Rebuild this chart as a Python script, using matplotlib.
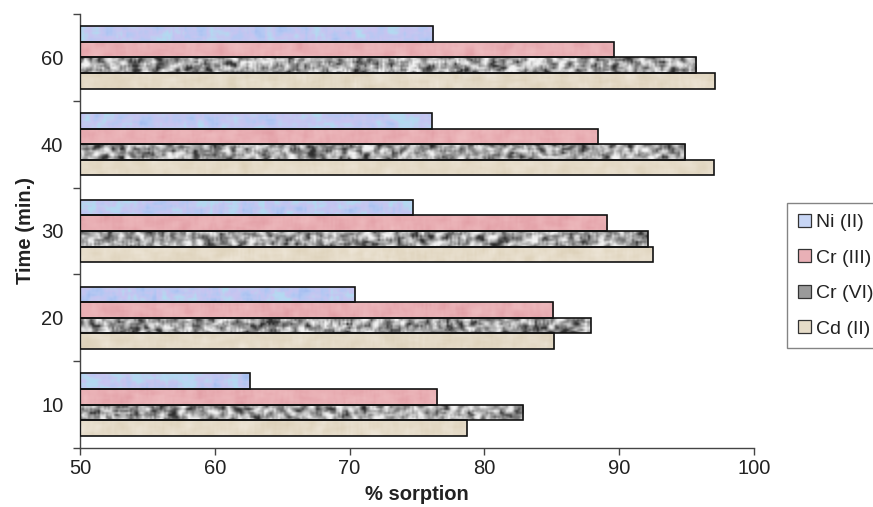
import numpy as np
import matplotlib
matplotlib.use("Agg")
import matplotlib.pyplot as plt
from matplotlib.patches import Patch
from matplotlib.colors import LinearSegmentedColormap

plt.rcParams['font.family'] = ['Liberation Sans', 'DejaVu Sans']

times = ['10', '20', '30', '40', '60']
series = ['Ni (II)', 'Cr (III)', 'Cr (VI)', 'Cd (II)']
ni_ii = [62.6, 70.4, 74.7, 76.1, 76.2]
cr_iii = [76.5, 85.1, 89.1, 88.4, 89.6]
cr_vi = [82.9, 87.9, 92.1, 94.9, 95.7]
cd_ii = [78.7, 85.2, 92.5, 97.0, 97.1]

# texture colours for each metal and the legend swatch colour
textures = [
    ['#a4bdf0', '#b4c9f3', '#c9c4f0', '#b0dcf0', '#c0d2f6'],
    ['#e29fa6', '#e9afb4', '#eebcbf'],
    ['#2e2e2e', '#6e6e6e', '#9c9c9c', '#c8c8c8', '#f2f2f2'],
    ['#ddd1b9', '#e5dbc8', '#ede5d7'],
]
swatch = ['#c8d6f5', '#e9b0b6', '#9a9a9a', '#e6dcc8']

rng = np.random.default_rng(7)


def noise(h, w, k):
    a = rng.random((h + 2 * k, w + 2 * k))
    ker = np.ones(2 * k + 1) / (2 * k + 1)
    a = np.apply_along_axis(lambda r: np.convolve(r, ker, 'valid'), 1, a)
    a = np.apply_along_axis(lambda c: np.convolve(c, ker, 'valid'), 0, a)
    a = (a - a.min()) / (a.max() - a.min())
    return a


fig = plt.figure(figsize=(8.73, 5.07), dpi=100)
ax = fig.add_axes([80 / 873, 1 - 448 / 507, 674 / 873, 434 / 507])

y = np.arange(len(times))
h = 0.18
offsets = [1.5 * h, 0.5 * h, -0.5 * h, -1.5 * h]
values = [ni_ii, cr_iii, cr_vi, cd_ii]

for s, vals in enumerate(values):
    bars = ax.barh(y + offsets[s], np.array(vals) - 50, left=50, height=h,
                   facecolor='none', edgecolor='#111111', linewidth=1.2,
                   zorder=3)
    cmap = LinearSegmentedColormap.from_list('t%d' % s, textures[s])
    for b in bars:
        x0, y0 = b.get_x(), b.get_y()
        x1, y1 = x0 + b.get_width(), y0 + b.get_height()
        w_px = max(int((x1 - x0) * 13.5 / 2), 4)
        if s == 2:
            tex = noise(8, w_px, 1)
            tex = np.clip((tex - 0.5) * 1.6 + 0.55, 0, 1)
        else:
            tex = noise(8, w_px, 2)
        im = ax.imshow(tex, cmap=cmap, extent=[x0, x1, y0, y1],
                       aspect='auto', interpolation='bilinear', zorder=2)
        im.set_clip_path(b)

ax.set_xlim(50, 100)
ax.set_ylim(-0.5, len(times) - 0.5)
ax.set_xticks(range(50, 101, 10))
ax.set_yticks(y)
ax.set_yticklabels(times)
ax.set_yticks(np.arange(-0.5, len(times), 1.0), minor=True)
ax.tick_params(axis='y', which='major', length=0, pad=12, labelsize=14.5,
               labelcolor='#222222')
ax.tick_params(axis='y', which='minor', length=5, width=1, color='#444444')
ax.tick_params(axis='x', length=5, width=1, color='#444444', labelsize=14.5,
               labelcolor='#222222', pad=3)
for side in ['top', 'right']:
    ax.spines[side].set_visible(False)
for side in ['left', 'bottom']:
    ax.spines[side].set_color('#444444')
    ax.spines[side].set_linewidth(1.0)

ax.set_xlabel('% sorption', fontsize=14.5, fontweight='bold', color='#222222',
              labelpad=5)
ax.set_ylabel('Time (min.)', fontsize=14.5, fontweight='bold', color='#222222',
              labelpad=4)

handles = [Patch(facecolor=swatch[i], edgecolor='#333333', linewidth=0.9)
           for i in range(len(series))]
leg = fig.legend(handles, series, loc='upper left',
                 bbox_to_anchor=(787 / 873, 1 - 203 / 507), fontsize=14,
                 frameon=True, fancybox=False, edgecolor='#666666',
                 handlelength=0.67, handleheight=0.67, handletextpad=0.25,
                 labelspacing=0.93, borderpad=0.55, borderaxespad=0)
leg.get_frame().set_linewidth(1.0)
for t in leg.get_texts():
    t.set_color('#222222')

fig.savefig('out.png', dpi=100)
